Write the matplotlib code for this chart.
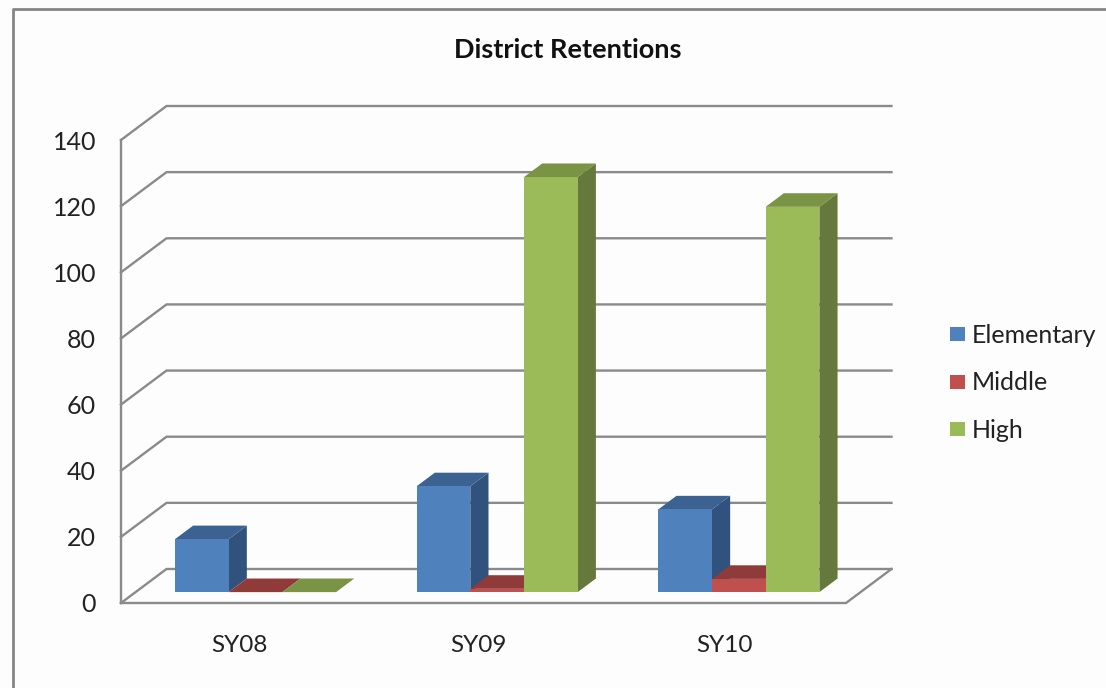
import matplotlib
matplotlib.use('Agg')
import matplotlib.pyplot as plt
from matplotlib.lines import Line2D
from matplotlib.patches import Patch
from matplotlib.transforms import ScaledTranslation
import numpy as np

# Data
categories = ['SY08', 'SY09', 'SY10']
series = ['Elementary', 'Middle', 'High']
elementary = [16, 32, 25]
middle = [0, 1, 4]
high = [0, 125.5, 116.5]
y_ticks = [0, 20, 40, 60, 80, 100, 120, 140]

# front, top, side colours
colors = {
    'Elementary': ('#4f81bd', '#3c6292', '#30527c'),
    'Middle': ('#c0504d', '#8f3b39', '#7d3331'),
    'High': ('#9bbb59', '#7a9344', '#66793c'),
}

W, H = 1106, 688
GRID = '#8a8a8a'
FONT = 'Lato'

fig = plt.figure(figsize=(W / 100, H / 100), dpi=100, facecolor='#fdfdfd')
ax = fig.add_axes([121 / W, 1 - 603 / H, 725 / W, 463 / H])
ax.set_xlim(0, 3)
ax.set_ylim(0, 140)
ax.patch.set_alpha(0)
for s in ax.spines.values():
    s.set_visible(False)

# oblique depth offset of the chart box, in data units
DX = 45.5 / (725 / 3)
DY = 34 / (463 / 140)

# walls and floor
for v in y_ticks:
    ax.plot([0, DX, 3 + DX], [v, v + DY, v + DY], color=GRID, lw=1.7, clip_on=False, zorder=1)
ax.plot([0, 0], [0, 140], color=GRID, lw=1.7, clip_on=False, zorder=1)
ax.plot([0, 3, 3 + DX], [0, 0, DY], color=GRID, lw=1.7, clip_on=False, zorder=1)

# bars
bar_w = 53.7 / (725 / 3)
d0, d1 = 0.30, 0.70
x = np.arange(len(categories)) + 0.5
z = 2
for i, xc in enumerate(x):
    for j, (name, vals) in enumerate(zip(series, [elementary, middle, high])):
        v = vals[i]
        front, top, side = colors[name]
        x0 = xc + (j - 1.5) * bar_w + d0 * DX
        y0 = 0.32 * DY
        ddx = (d1 - d0) * DX
        ddy = (d1 - d0) * DY
        x1 = x0 + bar_w
        ax.fill([x1, x1 + ddx, x1 + ddx, x1], [y0, y0 + ddy, y0 + ddy + v, y0 + v],
                color=side, lw=0, clip_on=False, zorder=z)
        ax.fill([x0, x1, x1 + ddx, x0 + ddx], [y0 + v, y0 + v, y0 + v + ddy, y0 + v + ddy],
                color=top, lw=0, clip_on=False, zorder=z)
        ax.bar(x0, v, bar_w, bottom=y0, align='edge', color=front, lw=0, clip_on=False, zorder=z)
        z += 1

ax.set_yticks(y_ticks)
ax.set_yticklabels([str(v) for v in y_ticks], fontsize=18, family=FONT, color='#222222')
ax.set_xticks(x)
ax.set_xticklabels(categories, fontsize=17.5, family=FONT, color='#222222')
ax.tick_params(axis='y', length=0, pad=18)
ax.tick_params(axis='x', length=0, pad=23)

# x labels sit a little left of the group centres in the original
for lab, shift in zip(ax.get_xticklabels(), [-2, -5, -1]):
    lab.set_transform(lab.get_transform() + ScaledTranslation(shift / 100, 0, fig.dpi_scale_trans))

fig.text(568 / W, 1 - 50 / H, 'District Retentions', ha='center', va='center',
         fontsize=19.5, fontweight='bold', family=FONT, color='#111111')

handles = [Patch(color=colors[n][0], lw=0) for n in series]
fig.legend(handles, series, loc='center left', bbox_to_anchor=(927 / W, 1 - 383 / H),
           frameon=False, handlelength=0.6, handleheight=0.5, handletextpad=0.31,
           labelspacing=0.98, prop={'family': FONT, 'size': 18}, labelcolor='#222222')

# outer chart frame
fig.add_artist(Line2D([13 / W, 13 / W, 1], [0, 1 - 9 / H, 1 - 9 / H], color='#858585', lw=2))

fig.savefig('out.png', dpi=100, facecolor=fig.get_facecolor())
